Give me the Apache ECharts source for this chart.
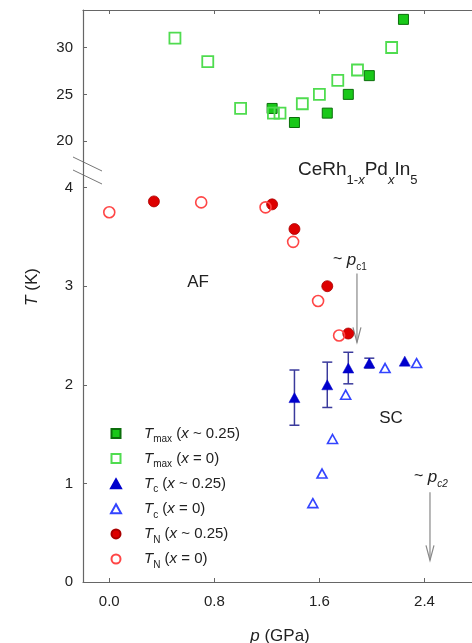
<!DOCTYPE html>
<html>
<head>
<meta charset="utf-8">
<script src="https://cdn.jsdelivr.net/npm/echarts@6/dist/echarts.min.js"></script>
<style>
  html, body { margin: 0; padding: 0; background: #fff; }
  #chart { width: 472px; height: 643px; }
</style>
</head>
<body>
<div id="chart"></div>
<script>
// 数据 (p in GPa, T in K)
const tmaxDopedP = [1.24, 1.41, 1.66, 1.82, 1.98, 2.24];
const tmaxDopedT = [23.5, 22.0, 23.0, 25.0, 27.0, 33.0];
const tmaxPureP = [0.50, 0.75, 1.00, 1.25, 1.30, 1.47, 1.60, 1.74, 1.89, 2.15];
const tmaxPureT = [31.0, 28.5, 23.5, 23.0, 23.0, 24.0, 25.0, 26.5, 27.6, 30.0];
const tcDopedP = [1.41, 1.66, 1.82, 1.98, 2.25];
const tcDopedT = [1.87, 2.00, 2.17, 2.22, 2.24];
const tcDopedErr = [0.28, 0.23, 0.16, 0.05, 0];
const tcPureP = [1.55, 1.62, 1.70, 1.80, 2.10, 2.34];
const tcPureT = [0.80, 1.10, 1.45, 1.90, 2.17, 2.22];
const tnDopedP = [0.34, 1.24, 1.41, 1.66, 1.82];
const tnDopedT = [3.86, 3.83, 3.58, 3.00, 2.52];
const tnPureP = [0.00, 0.70, 1.19, 1.40, 1.59, 1.75];
const tnPureT = [3.75, 3.85, 3.80, 3.45, 2.85, 2.50];

// pressure arrows: [p, T start, T end]
const pc1Arrow = [1.886, 3.13, 2.43];
const pc2Arrow = [2.442, 0.91, 0.22];

// axis ticks
const pTicks = [0, 0.8, 1.6, 2.4];
const lowTicks = [0, 1, 2, 3, 4];
const highTicks = [20, 25, 30];

const zip = (a, b) => a.map((v, i) => [v, b[i]]);

const FONT = 'Liberation Sans';
const TXT = '#222';
const AXIS = '#666';

const squareIcon = 'path://M0,0L10,0L10,10L0,10Z';
const circleIcon = 'path://M0,5A5,5,0,1,0,10,5A5,5,0,1,0,0,5Z';
const triIcon = 'path://M5,0L10,9L0,9Z';

const legendLabels = {
  'Tmax (x ~ 0.25)': '{i|T}{s|max}{n| (}{i|x}{n| ~ 0.25)}',
  'Tmax (x = 0)': '{i|T}{s|max}{n| (}{i|x}{n| = 0)}',
  'Tc (x ~ 0.25)': '{i|T}{s|c}{n| (}{i|x}{n| ~ 0.25)}',
  'Tc (x = 0)': '{i|T}{s|c}{n| (}{i|x}{n| = 0)}',
  'TN (x ~ 0.25)': '{i|T}{s|N}{n| (}{i|x}{n| ~ 0.25)}',
  'TN (x = 0)': '{i|T}{s|N}{n| (}{i|x}{n| = 0)}'
};

let myChart = echarts.init(document.getElementById('chart'));

let option = {
  animation: false,
  backgroundColor: '#fff',
  textStyle: { fontFamily: FONT },
  grid: [
    { left: 83, width: 394, top: 10, height: 150, outerBoundsMode: 'none', containLabel: false },
    { left: 83, width: 394, top: 160, height: 422, outerBoundsMode: 'none', containLabel: false }
  ],
  xAxis: [
    {
      gridIndex: 0, type: 'value', position: 'top', min: -0.2, max: 2.8,
      axisLine: { show: true, onZero: false, lineStyle: { color: AXIS, width: 1.2 } },
      axisTick: { show: true, inside: true, length: 4, customValues: pTicks, lineStyle: { color: AXIS } },
      axisLabel: { show: false },
      splitLine: { show: false }
    },
    {
      gridIndex: 1, type: 'value', min: -0.2, max: 2.8,
      name: '{i|p} (GPa)', nameLocation: 'middle', nameGap: 46,
      nameTextStyle: {
        fontFamily: FONT, fontSize: 17, color: TXT,
        rich: { i: { fontFamily: FONT, fontSize: 17, fontStyle: 'italic', color: TXT } }
      },
      axisLine: { show: true, onZero: false, lineStyle: { color: AXIS, width: 1.2 } },
      axisTick: { show: true, inside: true, length: 4, customValues: pTicks, lineStyle: { color: AXIS } },
      axisLabel: {
        customValues: pTicks, margin: 12, fontSize: 15, color: TXT, fontFamily: FONT,
        formatter: v => v.toFixed(1)
      },
      splitLine: { show: false }
    }
  ],
  yAxis: [
    {
      gridIndex: 0, type: 'value', min: 18, max: 34,
      axisLine: { show: true, onZero: false, lineStyle: { color: AXIS, width: 1.2 } },
      axisTick: { show: true, inside: true, length: 4, customValues: highTicks, lineStyle: { color: AXIS } },
      axisLabel: { customValues: highTicks, margin: 10, fontSize: 15, color: TXT, fontFamily: FONT },
      splitLine: { show: false }
    },
    {
      gridIndex: 1, type: 'value', min: 0, max: 4.28,
      axisLine: { show: true, onZero: false, lineStyle: { color: AXIS, width: 1.2 } },
      axisTick: { show: true, inside: true, length: 4, customValues: lowTicks, lineStyle: { color: AXIS } },
      axisLabel: { customValues: lowTicks, margin: 10, fontSize: 15, color: TXT, fontFamily: FONT },
      splitLine: { show: false }
    }
  ],
  legend: {
    orient: 'vertical', left: 110, top: 426, padding: 0,
    itemWidth: 46, itemHeight: 9, itemGap: 6.6,
    selectedMode: false,
    data: [
      { name: 'Tmax (x ~ 0.25)', icon: squareIcon },
      { name: 'Tmax (x = 0)', icon: squareIcon },
      { name: 'Tc (x ~ 0.25)', icon: triIcon },
      { name: 'Tc (x = 0)', icon: triIcon },
      { name: 'TN (x ~ 0.25)', icon: circleIcon },
      { name: 'TN (x = 0)', icon: circleIcon }
    ],
    formatter: name => legendLabels[name],
    textStyle: {
      color: TXT, fontFamily: FONT, fontSize: 15,
      rich: {
        i: { fontFamily: FONT, fontSize: 15, fontStyle: 'italic', color: TXT, lineHeight: 22, verticalAlign: 'middle' },
        n: { fontFamily: FONT, fontSize: 15, color: TXT, lineHeight: 22, verticalAlign: 'middle' },
        s: { fontFamily: FONT, fontSize: 10, color: TXT, lineHeight: 12, verticalAlign: 'bottom' }
      }
    }
  },
  graphic: [
    // axis break marks
    { type: 'line', shape: { x1: 73, y1: 157, x2: 102, y2: 171 }, style: { stroke: '#777', lineWidth: 1 } },
    { type: 'line', shape: { x1: 73, y1: 170, x2: 102, y2: 184 }, style: { stroke: '#777', lineWidth: 1 } },
    {
      type: 'text', x: 32, y: 287, rotation: Math.PI / 2,
      style: {
        text: '{i|T} (K)', fill: TXT, font: '17px ' + FONT, align: 'center', verticalAlign: 'middle',
        rich: { i: { fontFamily: FONT, fontSize: 17, fontStyle: 'italic', fill: TXT } }
      }
    },
    {
      type: 'text', x: 298, y: 170,
      style: {
        text: '{n|CeRh}{s|1-}{si|x}{n|Pd}{si|x}{n|In}{s|5}', align: 'left', verticalAlign: 'middle',
        rich: {
          n: { fontFamily: FONT, fontSize: 19, fill: TXT, lineHeight: 34, verticalAlign: 'middle' },
          s: { fontFamily: FONT, fontSize: 13, fill: TXT, lineHeight: 14, verticalAlign: 'bottom' },
          si: { fontFamily: FONT, fontSize: 13, fontStyle: 'italic', fill: TXT, lineHeight: 14, verticalAlign: 'bottom' }
        }
      }
    },
    { type: 'text', x: 198, y: 282, style: { text: 'AF', font: '17px ' + FONT, fill: TXT, align: 'center', verticalAlign: 'middle' } },
    { type: 'text', x: 391, y: 418, style: { text: 'SC', font: '17px ' + FONT, fill: TXT, align: 'center', verticalAlign: 'middle' } },
    {
      type: 'text', x: 333, y: 260,
      style: {
        text: '{n|~ }{i|p}{s|c1}', align: 'left', verticalAlign: 'middle',
        rich: {
          n: { fontFamily: FONT, fontSize: 16, fill: TXT, lineHeight: 24, verticalAlign: 'middle' },
          i: { fontFamily: FONT, fontSize: 17, fontStyle: 'italic', fill: TXT, lineHeight: 24, verticalAlign: 'middle' },
          s: { fontFamily: FONT, fontSize: 10, fill: TXT, lineHeight: 10, verticalAlign: 'bottom' }
        }
      }
    },
    {
      type: 'text', x: 414, y: 477,
      style: {
        text: '{n|~ }{i|p}{s|c2}', align: 'left', verticalAlign: 'middle',
        rich: {
          n: { fontFamily: FONT, fontSize: 16, fill: TXT, lineHeight: 24, verticalAlign: 'middle' },
          i: { fontFamily: FONT, fontSize: 17, fontStyle: 'italic', fill: TXT, lineHeight: 24, verticalAlign: 'middle' },
          s: { fontFamily: FONT, fontSize: 10, fontStyle: 'italic', fill: TXT, lineHeight: 10, verticalAlign: 'bottom' }
        }
      }
    }
  ],
  series: [
    {
      name: 'Tmax (x ~ 0.25)', type: 'scatter', xAxisIndex: 0, yAxisIndex: 0,
      symbol: 'rect', symbolSize: 10, z: 3,
      itemStyle: { color: '#19c819', borderColor: '#0b6e0b', borderWidth: 1, opacity: 1 },
      data: zip(tmaxDopedP, tmaxDopedT)
    },
    {
      name: 'Tmax (x = 0)', type: 'scatter', xAxisIndex: 0, yAxisIndex: 0,
      symbol: 'rect', symbolSize: 11, z: 4,
      itemStyle: { color: 'rgba(255,255,255,0)', borderColor: '#4fdc4f', borderWidth: 1.8, opacity: 1 },
      data: zip(tmaxPureP, tmaxPureT)
    },
    {
      name: 'Tc (x ~ 0.25)', type: 'scatter', xAxisIndex: 1, yAxisIndex: 1,
      symbol: 'triangle', symbolSize: [11, 10], z: 4,
      itemStyle: { color: '#0000cc', borderColor: '#0000cc', borderWidth: 0.5, opacity: 1 },
      data: zip(tcDopedP, tcDopedT)
    },
    {
      name: 'Tc (x = 0)', type: 'scatter', xAxisIndex: 1, yAxisIndex: 1,
      symbol: 'triangle', symbolSize: [10, 9], z: 4,
      itemStyle: { color: 'rgba(255,255,255,0)', borderColor: '#3344ff', borderWidth: 1.6, opacity: 1 },
      data: zip(tcPureP, tcPureT)
    },
    {
      name: 'TN (x ~ 0.25)', type: 'scatter', xAxisIndex: 1, yAxisIndex: 1,
      symbol: 'circle', symbolSize: 11, z: 3,
      itemStyle: { color: '#dd0000', borderColor: '#aa0000', borderWidth: 0.8, opacity: 1 },
      data: zip(tnDopedP, tnDopedT)
    },
    {
      name: 'TN (x = 0)', type: 'scatter', xAxisIndex: 1, yAxisIndex: 1,
      symbol: 'circle', symbolSize: 11, z: 4,
      itemStyle: { color: 'rgba(255,255,255,0)', borderColor: '#ff4646', borderWidth: 1.6, opacity: 1 },
      data: zip(tnPureP, tnPureT)
    },
    {
      // error bars on Tc (x ~ 0.25)
      type: 'custom', xAxisIndex: 1, yAxisIndex: 1, z: 2, silent: true,
      data: tcDopedP.map((p, i) => [p, tcDopedT[i], tcDopedErr[i]]),
      renderItem: function (params, api) {
        const err = api.value(2);
        if (!err) return;
        const top = api.coord([api.value(0), api.value(1) + err]);
        const bot = api.coord([api.value(0), api.value(1) - err]);
        const w = 5;
        const st = { stroke: '#3a3a9c', lineWidth: 1.5 };
        return {
          type: 'group',
          children: [
            { type: 'line', shape: { x1: top[0], y1: top[1], x2: bot[0], y2: bot[1] }, style: st },
            { type: 'line', shape: { x1: top[0] - w, y1: top[1], x2: top[0] + w, y2: top[1] }, style: st },
            { type: 'line', shape: { x1: bot[0] - w, y1: bot[1], x2: bot[0] + w, y2: bot[1] }, style: st }
          ]
        };
      }
    },
    {
      // pc arrows
      type: 'custom', xAxisIndex: 1, yAxisIndex: 1, z: 2, silent: true,
      data: [pc1Arrow, pc2Arrow],
      renderItem: function (params, api) {
        const a = api.coord([api.value(0), api.value(1)]);
        const b = api.coord([api.value(0), api.value(2)]);
        const st = { stroke: '#888', lineWidth: 1.2, fill: null };
        return {
          type: 'group',
          children: [
            { type: 'line', shape: { x1: a[0], y1: a[1], x2: b[0], y2: b[1] }, style: st },
            { type: 'polyline', shape: { points: [[b[0] - 4, b[1] - 15], [b[0], b[1]], [b[0] + 4, b[1] - 15]] }, style: st }
          ]
        };
      }
    }
  ]
};

myChart.setOption(option);
window.addEventListener('resize', () => {
  myChart.resize();
}, true);
</script>
</body>
</html>
